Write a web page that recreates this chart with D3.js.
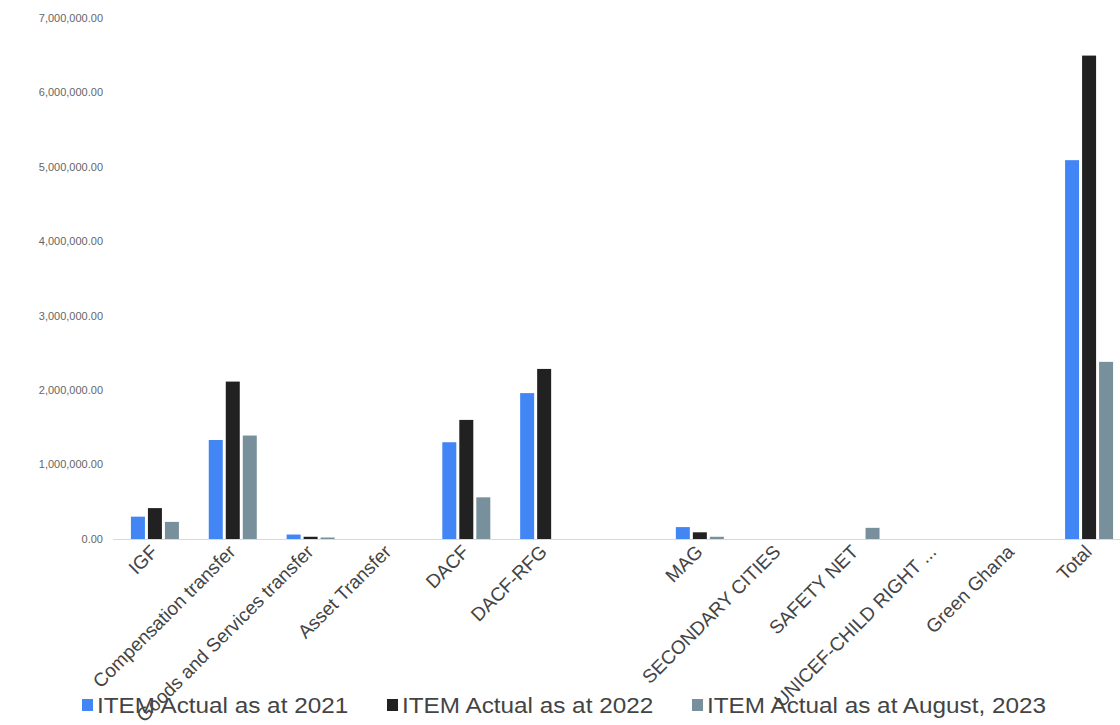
<!DOCTYPE html>
<html>
<head>
<meta charset="utf-8">
<script src="https://cdn.jsdelivr.net/npm/d3@7"></script>
<style>
  html, body { margin: 0; padding: 0; background: #fff; }
  svg { display: block; font-family: "Liberation Sans", Arial, sans-serif; }
</style>
</head>
<body>
<svg id="chart" width="1120" height="725"></svg>
<script>
// Revenue items by year
const categories = [
  "IGF", "Compensation transfer", "Goods and Services transfer", "Asset Transfer",
  "DACF", "DACF-RFG", "", "MAG", "SECONDARY CITIES", "SAFETY NET",
  "UNICEF-CHILD RIGHT ...", "Green Ghana", "Total"
];
const seriesNames = [
  "ITEM Actual as at 2021",
  "ITEM Actual as at 2022",
  "ITEM Actual as at August, 2023"
];
const actual2021 = [300000, 1330000, 60000, 0, 1300000, 1960000, 0, 160000, 0, 0, 0, 0, 5090000];
const actual2022 = [415000, 2115000, 30000, 0, 1600000, 2285000, 0, 90000, 0, 0, 0, 0, 6495000];
const actualAug2023 = [230000, 1390000, 20000, 0, 560000, 0, 0, 30000, 0, 150000, 0, 0, 2380000];
const yTicks = [0, 1000000, 2000000, 3000000, 4000000, 5000000, 6000000, 7000000];
const colors = ["#4285F4", "#212121", "#78909C"];

const seriesValues = [actual2021, actual2022, actualAug2023];

const svg = d3.select("#chart");
const margin = { left: 116, right: 1128, top: 18, bottom: 539 };

const x = d3.scaleBand()
  .domain(d3.range(categories.length))
  .range([margin.left, margin.right]);

const y = d3.scaleLinear()
  .domain([0, 7000000])
  .range([margin.bottom, margin.top]);

const barW = 14, barStep = 17;
const stretch = 1.13; // text is drawn slightly wide

// y-axis labels
const fmt = d3.format(",.2f");
svg.append("g")
  .selectAll("text")
  .data(yTicks)
  .join("text")
  .attr("x", 103)
  .attr("y", d => y(d))
  .attr("dy", "0.35em")
  .attr("text-anchor", "end")
  .attr("font-size", 11)
  .attr("fill", "#666")
  .text(d => fmt(d));

// baseline
svg.append("line")
  .attr("x1", 113).attr("x2", 1120)
  .attr("y1", y(0) + 0.5).attr("y2", y(0) + 0.5)
  .attr("stroke", "#d9d9d9").attr("stroke-width", 1.2);

// bars
const groups = svg.append("g")
  .selectAll("g")
  .data(categories.map((c, i) => i))
  .join("g")
  .attr("transform", i => `translate(${x(i) + x.bandwidth() / 2},0)`);

groups.selectAll("rect")
  .data(i => seriesValues.map((vals, s) => ({ s, v: vals[i] })).filter(d => d.v > 0))
  .join("rect")
  .attr("x", d => (d.s - 1) * barStep - barW / 2)
  .attr("width", barW)
  .attr("y", d => y(d.v))
  .attr("height", d => Math.max(1, y(0) - y(d.v)))
  .attr("fill", d => colors[d.s]);

// category labels, rotated
svg.append("g")
  .selectAll("text")
  .data(categories)
  .join("text")
  .attr("transform", (d, i) => `translate(${x(i) + x.bandwidth() / 2 + 4},${y(0) + 14}) rotate(-45)`)
  .attr("text-anchor", "end")
  .attr("font-size", 19)
  .attr("fill", "#444")
  .text(d => d);

// legend
const legendX = [82, 387, 692];
const legend = svg.append("g")
  .selectAll("g")
  .data(seriesNames)
  .join("g")
  .attr("transform", (d, i) => `translate(${legendX[i]},699)`);

legend.append("rect")
  .attr("width", 11).attr("height", 12)
  .attr("fill", (d, i) => colors[i]);

legend.append("text")
  .attr("x", 15)
  .attr("y", 14)
  .attr("font-size", 21.5)
  .attr("fill", "#444")
  .text(d => d)
  .each(function () {
    const w = this.getComputedTextLength();
    d3.select(this).attr("textLength", w * stretch).attr("lengthAdjust", "spacingAndGlyphs");
  });
</script>
</body>
</html>
